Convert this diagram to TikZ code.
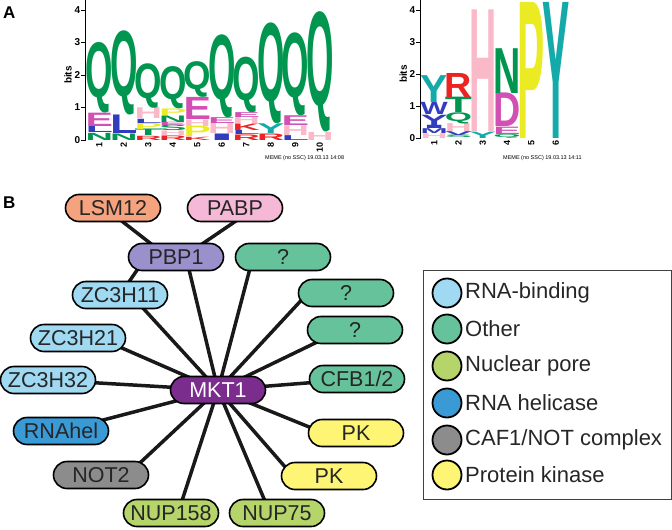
\documentclass[tikz,border=0pt]{standalone}
\usepackage{fontspec}
\setmainfont{Liberation Sans}
\usepackage{graphicx}
\usetikzlibrary{positioning,backgrounds}

\definecolor{qgreen}{RGB}{0,150,80}
\definecolor{emag}{RGB}{210,80,180}
\definecolor{lblue}{RGB}{50,60,190}
\definecolor{hpink}{RGB}{250,185,200}
\definecolor{rred}{RGB}{235,35,35}
\definecolor{pyel}{RGB}{235,235,35}
\definecolor{yteal}{RGB}{20,170,170}

\definecolor{lsmorange}{RGB}{245,162,126}
\definecolor{pabppink}{RGB}{245,184,214}
\definecolor{pbppurple}{RGB}{154,144,204}
\definecolor{othergreen}{RGB}{102,194,155}
\definecolor{rnablue}{RGB}{159,217,242}
\definecolor{mktpurple}{RGB}{123,45,142}
\definecolor{helblue}{RGB}{58,154,214}
\definecolor{notgray}{RGB}{140,140,140}
\definecolor{pkyellow}{RGB}{255,245,117}
\definecolor{nupgreen}{RGB}{181,213,106}

\newlength{\colw}
\newlength{\bitsz}
% one letter of a logo: column, from, to (bits), colour, letter
\newcommand{\lchar}[5]{%
  \pgfmathsetlengthmacro{\lh}{(#3-#2)*\bitsz}%
  \node[glyph, text=#4] at (#1-1.06,#2) {\resizebox*{1.12\colw}{\lh}{\bfseries #5}};}

\begin{document}
\begin{tikzpicture}[
    x=1pt, y=-1pt,
    glyph/.style={anchor=south west, inner sep=0pt, outer sep=0pt},
    prot/.style={rectangle, draw=black, line width=1.6pt, rounded corners=13.5pt, minimum width=95pt, minimum height=27pt, inner sep=0pt, font=\fontsize{21.5}{23}\selectfont, text=black!85},
    link/.style={line width=3.5pt, black!90},
    legdot/.style={circle, draw=black, line width=1.8pt, minimum size=29pt, inner sep=0pt},
    legtext/.style={anchor=west, inner sep=0pt, font=\fontsize{22}{24}\selectfont, text=black!85},
    panel/.style={anchor=north west, inner sep=0pt, font=\fontsize{17}{19}\selectfont\bfseries},
    ticklab/.style={anchor=east, inner sep=0pt, font=\fontsize{10}{11}\selectfont\bfseries},
    poslab/.style={anchor=east, rotate=90, inner sep=0pt, font=\fontsize{9}{10}\selectfont\bfseries},
    memelab/.style={anchor=west, inner sep=0pt, font=\fontsize{5.5}{6}\selectfont}
]
\useasboundingbox (0,0) rectangle (672,530);

\node[panel] (lblA) at (3,7) {A};
\node[panel] (lblB) at (3,197) {B};

% left logo
\setlength{\colw}{24.5pt}\setlength{\bitsz}{32.5pt}
\begin{scope}[shift={(87,140)}, x=24.5pt, y=32.5pt]
  \draw[line width=1pt] (-0.06,0) -- (-0.06,4.3);
  \foreach \b in {0,...,4} {
    \draw[line width=1pt] (-0.06,\b) -- (-0.24,\b);
    \node[ticklab] (ta\b) at (-0.27,\b) {\b};
  }
  \node[rotate=90, inner sep=0pt, font=\fontsize{10}{11}\selectfont\bfseries] (bitsA) at (-0.77,2) {bits};
  \foreach \c in {1,...,10}
    \node[poslab] (pa\c) at (\c-0.5,-0.08) {\c};
  \lchar{1}{0}{.22}{qgreen}{N}\lchar{1}{.22}{.42}{lblue}{L}\lchar{1}{.42}{.83}{emag}{E}\lchar{1}{.83}{3.0}{qgreen}{Q}
  \lchar{2}{0}{.2}{qgreen}{N}\lchar{2}{.2}{.77}{lblue}{L}\lchar{2}{.77}{3.36}{qgreen}{Q}
  \lchar{3}{0}{.13}{rred}{R}\lchar{3}{.13}{.33}{qgreen}{T}\lchar{3}{.33}{.52}{pyel}{P}\lchar{3}{.52}{.65}{lblue}{L}\lchar{3}{.65}{.98}{hpink}{H}\lchar{3}{.98}{2.35}{qgreen}{Q}
  \lchar{4}{0}{.14}{rred}{R}\lchar{4}{.14}{.28}{hpink}{H}\lchar{4}{.28}{.45}{qgreen}{S}\lchar{4}{.45}{.55}{emag}{E}\lchar{4}{.55}{.75}{qgreen}{N}\lchar{4}{.75}{.95}{pyel}{P}\lchar{4}{.95}{2.25}{qgreen}{Q}
  \lchar{5}{0}{.1}{rred}{K}\lchar{5}{.1}{.42}{pyel}{P}\lchar{5}{.42}{.62}{hpink}{H}\lchar{5}{.62}{1.3}{emag}{E}\lchar{5}{1.3}{2.4}{qgreen}{Q}
  \lchar{6}{0}{.2}{lblue}{I}\lchar{6}{.2}{.52}{hpink}{H}\lchar{6}{.52}{.7}{emag}{E}\lchar{6}{.7}{3.25}{qgreen}{Q}
  \lchar{7}{0}{.17}{rred}{R}\lchar{7}{.17}{.3}{lblue}{L}\lchar{7}{.3}{.5}{rred}{K}\lchar{7}{.5}{.7}{hpink}{H}\lchar{7}{.7}{.85}{emag}{E}\lchar{7}{.85}{2.56}{qgreen}{Q}
  \lchar{8}{0}{.2}{rred}{R}\lchar{8}{.2}{.5}{yteal}{Y}\lchar{8}{.5}{3.6}{qgreen}{Q}
  \lchar{9}{0}{.15}{lblue}{L}\lchar{9}{.15}{.45}{hpink}{H}\lchar{9}{.45}{.75}{emag}{E}\lchar{9}{.75}{3.3}{qgreen}{Q}
  \lchar{10}{0}{.25}{hpink}{H}\lchar{10}{.25}{3.95}{qgreen}{Q}
\end{scope}
\node[memelab] (memeA) at (265,158) {MEME (no SSC) 19.03.13 14:08};

% right logo
\setlength{\colw}{24.3pt}\setlength{\bitsz}{32pt}
\begin{scope}[shift={(422,138)}, x=24.3pt, y=32pt]
  \draw[line width=1pt] (-0.06,0) -- (-0.06,4.3);
  \foreach \b in {0,...,4} {
    \draw[line width=1pt] (-0.06,\b) -- (-0.24,\b);
    \node[ticklab] (tb\b) at (-0.27,\b) {\b};
  }
  \node[rotate=90, inner sep=0pt, font=\fontsize{10}{11}\selectfont\bfseries] (bitsB) at (-0.77,2) {bits};
  \foreach \c in {1,...,6}
    \node[poslab] (pb\c) at (\c-0.5,-0.08) {\c};
  \lchar{1}{0}{.15}{hpink}{H}\lchar{1}{.15}{.3}{lblue}{M}\lchar{1}{.3}{.4}{lblue}{I}\lchar{1}{.4}{.72}{lblue}{Y}\lchar{1}{.72}{1.1}{lblue}{W}\lchar{1}{1.1}{1.94}{yteal}{Y}
  \lchar{2}{0}{.08}{qgreen}{S}\lchar{2}{.08}{.2}{lblue}{V}\lchar{2}{.2}{.45}{hpink}{H}\lchar{2}{.45}{.8}{qgreen}{Q}\lchar{2}{.8}{1.28}{qgreen}{T}\lchar{2}{1.28}{2.03}{rred}{R}
  \lchar{3}{0}{.2}{yteal}{Y}\lchar{3}{.2}{4.0}{hpink}{H}
  \lchar{4}{0}{.12}{qgreen}{Q}\lchar{4}{.12}{.35}{emag}{E}\lchar{4}{.35}{1.4}{emag}{D}\lchar{4}{1.4}{2.8}{qgreen}{N}
  \lchar{5}{0}{4.25}{pyel}{P}
  \lchar{6}{0}{4.25}{yteal}{Y}
\end{scope}
\node[memelab] (memeB) at (503,158) {MEME (no SSC) 19.03.13 14:11};

% network
\node[prot, fill=lsmorange] (lsm) at (113,208) {LSM12};
\node[prot, fill=pabppink] (pabp) at (235,208) {PABP};
\node[prot, fill=pbppurple] (pbp) at (176,257) {PBP1};
\node[prot, fill=othergreen] (qa) at (283,257) {?};
\node[prot, fill=rnablue] (zc11) at (120,295) {ZC3H11};
\node[prot, fill=othergreen] (qb) at (346,293) {?};
\node[prot, fill=rnablue] (zc21) at (78,338) {ZC3H21};
\node[prot, fill=othergreen] (qc) at (355,330) {?};
\node[prot, fill=rnablue] (zc32) at (48,380) {ZC3H32};
\node[prot, fill=mktpurple, text=white] (mkt) at (218,390) {MKT1};
\node[prot, fill=othergreen] (cfb) at (357,379) {CFB1/2};
\node[prot, fill=helblue] (hel) at (61,431) {RNAhel};
\node[prot, fill=pkyellow] (pka) at (356,433) {PK};
\node[prot, fill=notgray] (not) at (101,475) {NOT2};
\node[prot, fill=pkyellow] (pkb) at (329,476) {PK};
\node[prot, fill=nupgreen] (nupa) at (171,513) {NUP158};
\node[prot, fill=nupgreen] (nupb) at (277,513) {NUP75};

\begin{scope}[on background layer]
  \draw[link] ([xshift=-8pt]pbp.center) -- ([xshift=-8pt]lsm.center);
  \draw[link] ([xshift=7pt]pbp.center) -- ([xshift=20pt]pabp.center);
  \draw[link] ([xshift=-30pt]pbp.center) -- (zc11.center);
  \draw[link] (mkt.center) -- ([xshift=10pt]pbp.center);
  \draw[link] (mkt.center) -- ([xshift=-30pt]qa.center);
  \draw[link] (mkt.center) -- ([xshift=-38pt]qb.center);
  \draw[link] (mkt.center) -- ([xshift=-13pt]qc.center);
  \draw[link] (mkt.center) -- (cfb.center);
  \draw[link] (mkt.center) -- ([xshift=-32pt]pka.center);
  \draw[link] (mkt.center) -- ([xshift=-36pt]pkb.center);
  \draw[link] (mkt.center) -- ([xshift=-7pt]nupb.center);
  \draw[link] (mkt.center) -- ([xshift=7pt]nupa.center);
  \draw[link] (mkt.center) -- ([xshift=26pt]not.center);
  \draw[link] (mkt.center) -- (hel.center);
  \draw[link] (mkt.center) -- (zc32.center);
  \draw[link] (mkt.center) -- ([xshift=21pt]zc21.center);
  \draw[link] (mkt.center) -- ([xshift=11pt]zc11.center);
\end{scope}

% legend
\draw[line width=1pt, black!75] (423,270) rectangle (671,499);
\node[legdot, fill=rnablue] (ka) at (447,293) {};
\node[legdot, fill=othergreen] (kb) at (447,329) {};
\node[legdot, fill=nupgreen] (kc) at (447,366) {};
\node[legdot, fill=helblue] (kd) at (447,403) {};
\node[legdot, fill=notgray] (ke) at (447,440) {};
\node[legdot, fill=pkyellow] (kf) at (447,475) {};
\node[legtext] (ta) at (465,293) {RNA-binding};
\node[legtext] (tb) at (465,329) {Other};
\node[legtext] (tc) at (465,366) {Nuclear pore};
\node[legtext] (td) at (465,403) {RNA helicase};
\node[legtext] (te) at (465,440) {CAF1/NOT complex};
\node[legtext] (tf) at (465,475) {Protein kinase};
\end{tikzpicture}
\end{document}
